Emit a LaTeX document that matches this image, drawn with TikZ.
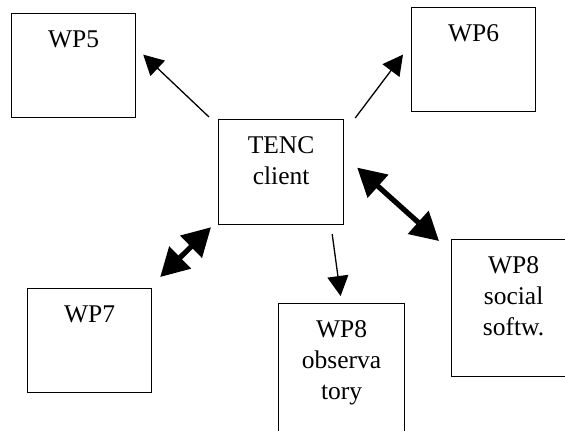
\documentclass[tikz,border=0pt]{standalone}
\usepackage{fontspec}
\setmainfont{Liberation Serif}
\usetikzlibrary{arrows.meta,calc,positioning}

\tikzset{
  wpbox/.style={draw, line width=0.6pt, anchor=north west, inner sep=0pt},
  wptext/.style={anchor=north, inner sep=0pt, yshift=-8.8pt, align=center,
    font=\fontsize{12.75}{15.5}\selectfont},
  linkarrow/.style={line width=0.65pt, -{Triangle[length=10pt,width=10.5pt]}},
  duplexarrow/.style={line width=2.6pt,
    {Triangle[length=14pt,width=15pt]}-{Triangle[length=14pt,width=15pt]}},
}

\begin{document}
\begin{tikzpicture}[x=0.5pt, y=-0.5pt]
    \useasboundingbox (0,0) rectangle (565,430);
    \clip (0,0) rectangle (565,430);

    % draw boxes
    \node (tenc) [wpbox, minimum width=62.5pt, minimum height=52.5pt,
        label={[wptext]north:{TENC\\client}}] at (218,119) {};
    \node (wp5) [wpbox, minimum width=62pt, minimum height=52pt,
        label={[wptext]north:WP5}] at (11,13) {};
    \node (wp6) [wpbox, minimum width=62pt, minimum height=52pt,
        label={[wptext]north:WP6}] at (411,7) {};
    \node (wp7) [wpbox, minimum width=62pt, minimum height=52pt,
        label={[wptext]north:WP7}] at (27,288) {};
    \node (obs) [wpbox, minimum width=63pt, minimum height=75pt,
        label={[wptext]north:{WP8\\observa\\tory}}] at (278,303) {};
    \node (social) [wpbox, minimum width=62pt, minimum height=68.5pt,
        label={[wptext]north:{WP8\\social\\softw.}}] at (451,239) {};

    % draw arrows
    \draw[linkarrow] ($(tenc.north west)+(-9,-2)$) -- ($(wp5.east)+(7,-11)$);
    \draw[linkarrow] ($(tenc.north east)+(11,-1)$) -- ($(wp6.west)+(-8,-5)$);
    \draw[linkarrow] ($(tenc.south east)+(-12,9)$) -- ($(obs.north)+(-1,-7)$);
    \draw[duplexarrow] ($(tenc.east)+(13,-4.5)$) -- ($(social.north west)+(-12,2)$);
    \draw[duplexarrow] ($(tenc.south west)+(-7,2)$) -- ($(wp7.north east)+(8,-11)$);
\end{tikzpicture}
\end{document}
